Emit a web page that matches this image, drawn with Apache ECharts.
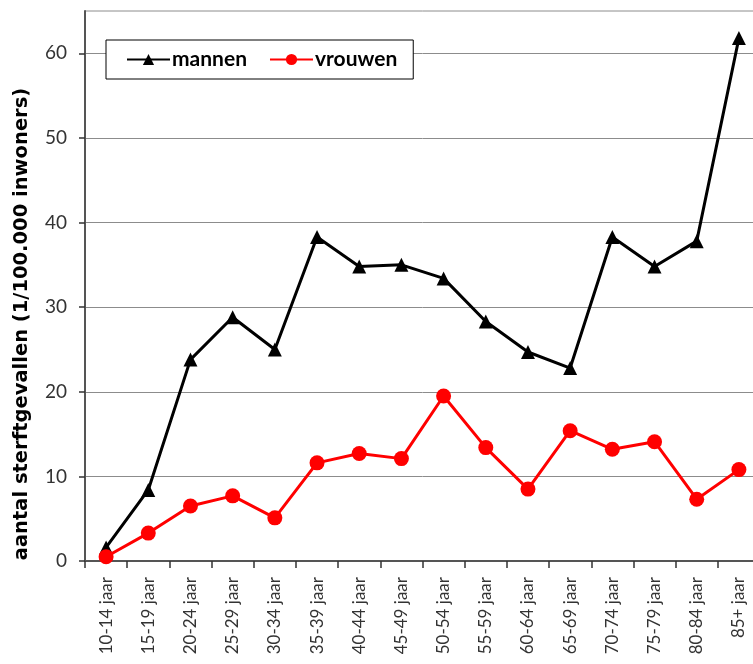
<!DOCTYPE html>
<html>
<head>
<meta charset="utf-8">
<title>Sterftgevallen per leeftijdsgroep</title>
<script src="https://cdn.jsdelivr.net/npm/echarts@6/dist/echarts.min.js"></script>
<style>
  html, body { margin: 0; padding: 0; background: #fff; overflow: hidden; }
  /* the plot runs on slightly past the right edge of the page */
  #chart { width: 761px; height: 664px; }
</style>
</head>
<body>
<div id="chart"></div>
<script>
// Age groups on the category axis
const categories = [
  '10-14 jaar', '15-19 jaar', '20-24 jaar', '25-29 jaar', '30-34 jaar',
  '35-39 jaar', '40-44 jaar', '45-49 jaar', '50-54 jaar', '55-59 jaar',
  '60-64 jaar', '65-69 jaar', '70-74 jaar', '75-79 jaar', '80-84 jaar',
  '85+ jaar'
];

// Deaths per 100.000 inhabitants
const mannen = [1.6, 8.4, 23.8, 28.8, 25.0, 38.3, 34.8, 35.0, 33.4, 28.3,
                24.7, 22.8, 38.3, 34.8, 37.8, 61.8];
const vrouwen = [0.5, 3.3, 6.5, 7.7, 5.1, 11.6, 12.7, 12.1, 19.5, 13.4,
                 8.5, 15.4, 13.2, 14.1, 7.3, 10.8];

// Value axis ticks
const yTicks = [0, 10, 20, 30, 40, 50, 60];
const yMax = 65;

const yAxisTitle = 'aantal sterftgevallen (1/100.000 inwoners)';

const FONT = 'Lato, "Open Sans", sans-serif';

const chart = echarts.init(document.getElementById('chart'), null, { renderer: 'canvas' });

chart.setOption({
  animation: false,
  backgroundColor: '#ffffff',
  textStyle: { fontFamily: FONT },
  grid: {
    left: 85,
    top: 11,
    right: 1,
    bottom: 103,
    show: true,
    borderColor: '#8c8c8c',
    borderWidth: 1,
    containLabel: false
  },
  legend: {
    left: 106,
    top: 40,
    orient: 'horizontal',
    padding: [9, 16, 9, 20],
    itemGap: 22,
    itemWidth: 43,
    itemHeight: 14,
    borderColor: '#000',
    borderWidth: 1,
    backgroundColor: '#fff',
    textStyle: { fontFamily: FONT, fontSize: 21, fontWeight: 'bold', color: '#000', padding: [0, 0, 0, -3] },
    data: ['mannen', 'vrouwen']
  },
  graphic: [{
    type: 'text',
    x: 22,
    y: 324,
    rotation: Math.PI / 2,
    style: {
      text: yAxisTitle,
      font: 'bold 19.5px "DejaVu Sans", sans-serif',
      fill: '#000',
      align: 'center',
      verticalAlign: 'middle'
    }
  }],
  xAxis: {
    type: 'category',
    data: categories,
    boundaryGap: true,
    axisLine: { show: true, lineStyle: { color: '#555', width: 2 } },
    axisTick: { show: true, length: 7, lineStyle: { color: '#333', width: 1.5 } },
    axisLabel: {
      rotate: 90,
      margin: 16,
      interval: 0,
      fontFamily: FONT,
      fontSize: 17,
      color: '#333'
    },
    splitLine: { show: false }
  },
  yAxis: {
    type: 'value',
    min: 0,
    max: yMax,
    interval: 10,
    axisLine: { show: true, lineStyle: { color: '#555', width: 2 } },
    axisTick: { show: true, length: 6, customValues: yTicks, lineStyle: { color: '#333', width: 1.5 } },
    axisLabel: {
      customValues: yTicks,
      margin: 18,
      fontFamily: FONT,
      fontSize: 19,
      color: '#333'
    },
    splitLine: { show: true, lineStyle: { color: '#8c8c8c', width: 1 } }
  },
  series: [
    {
      name: 'mannen',
      type: 'line',
      data: mannen,
      symbol: 'triangle',
      symbolSize: 14,
      lineStyle: { color: '#000', width: 3 },
      itemStyle: { color: '#000' },
      z: 3
    },
    {
      name: 'vrouwen',
      type: 'line',
      data: vrouwen,
      symbol: 'circle',
      symbolSize: 15,
      lineStyle: { color: '#ff0000', width: 3 },
      itemStyle: { color: '#ff0000' },
      z: 4
    }
  ]
});
</script>
</body>
</html>
